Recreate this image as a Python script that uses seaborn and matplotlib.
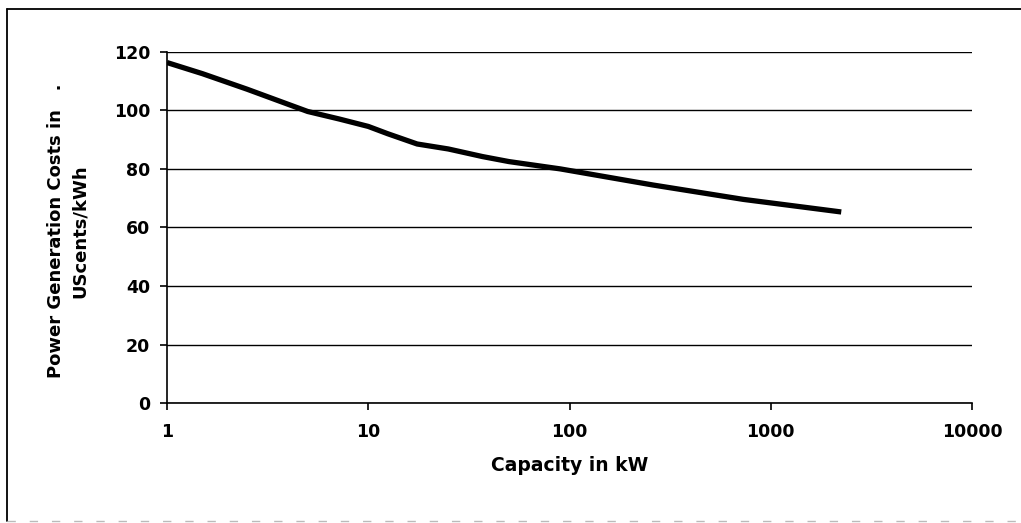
import matplotlib
matplotlib.use("Agg")
import matplotlib.pyplot as plt
from matplotlib.lines import Line2D
import seaborn as sns
import pandas as pd

# Data
capacity_kw = [1, 1.5, 2.5, 3.6, 5, 7.2, 10, 12.5, 17.5, 25, 37, 50, 90, 260, 730, 2240]
cost_uscents = [116.3, 112.5, 107.2, 103.2, 99.6, 97.0, 94.5, 92.0, 88.5, 86.8, 84.2,
                82.5, 80.0, 74.5, 69.6, 65.3]
x_ticks = [1, 10, 100, 1000, 10000]
x_tick_labels = ["1", "10", "100", "1000", "10000"]
y_ticks = [0, 20, 40, 60, 80, 100, 120]

sns.set_theme(style="white")
plt.rcParams['font.family'] = ['DejaVu Sans']
plt.rcParams.update({"text.color": "black", "axes.labelcolor": "black",
                     "xtick.color": "black", "ytick.color": "black"})

df = pd.DataFrame({"Capacity in kW": capacity_kw, "Cost": cost_uscents})

fig = plt.figure(figsize=(10.21, 5.23), dpi=100)
ax = fig.add_axes([167/1021, 1-403.3/523, (972-167)/1021, (403.3-51.7)/523])

sns.lineplot(data=df, x="Capacity in kW", y="Cost", ax=ax, color="black",
             linewidth=3.8, solid_capstyle="butt")

ax.set_xscale("log")
ax.set_xlim(1, 10000)
ax.set_ylim(0, 120)
ax.set_xticks(x_ticks)
ax.set_xticklabels(x_tick_labels)
ax.minorticks_off()
ax.set_yticks(y_ticks)

ax.yaxis.grid(True, color="black", linewidth=1.0)
ax.xaxis.grid(False)
for s in ["top", "right"]:
    ax.spines[s].set_visible(False)
for s in ["left", "bottom"]:
    ax.spines[s].set_color("black")
    ax.spines[s].set_linewidth(1.2)

ax.tick_params(axis="x", direction="out", length=5, width=1.2, color="black",
               labelcolor="black", pad=9, labelsize=12.5, bottom=True)
ax.tick_params(axis="y", direction="out", length=5, width=1.2, color="black",
               labelcolor="black", pad=7, labelsize=12.5, left=True)
for lab in ax.get_xticklabels() + ax.get_yticklabels():
    lab.set_fontweight("bold")

ax.set_xlabel("Capacity in kW", fontsize=13.5, fontweight="bold", labelpad=11,
              color="black")
ax.set_ylabel("Power Generation Costs in   .\nUScents/kWh", fontsize=13,
              fontweight="bold", ha="center", va="center", rotation_mode="anchor",
              linespacing=1.45, color="black")
ax.yaxis.set_label_coords(-0.123, 0.49)

# outer frame (left, top, faint bottom)
fig.add_artist(Line2D([7/1021, 7/1021], [1-9/523, 1-521/523], color="black",
                      linewidth=1.3, transform=fig.transFigure))
fig.add_artist(Line2D([7/1021, 1.0], [1-9/523, 1-9/523], color="black",
                      linewidth=1.3, transform=fig.transFigure))
fig.add_artist(Line2D([7/1021, 1.0], [1-521/523, 1-521/523], color="#bbbbbb",
                      linewidth=1.0, linestyle=(0, (6, 10)), transform=fig.transFigure))

fig.savefig("out.png", dpi=100)
